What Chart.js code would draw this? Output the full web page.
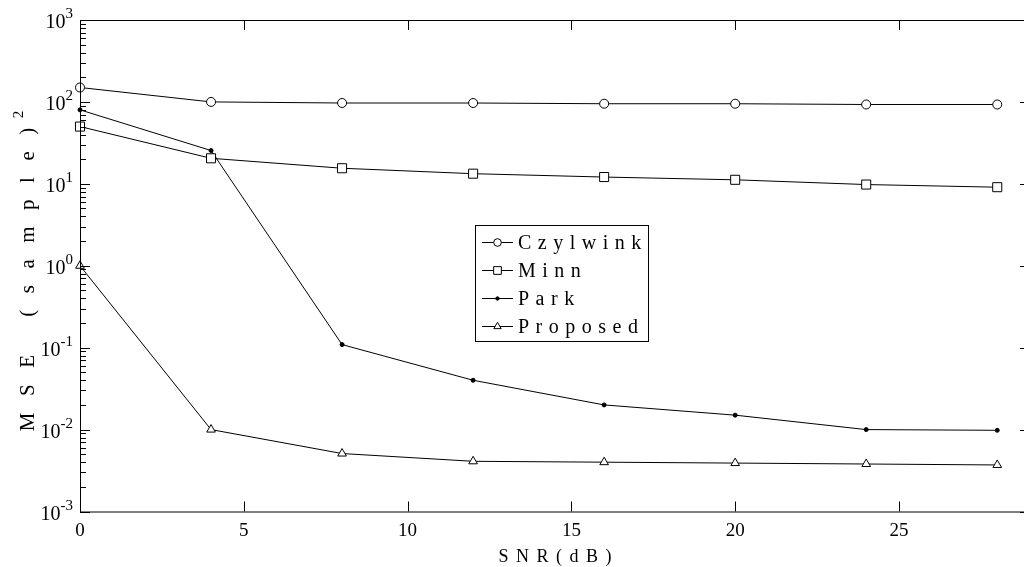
<!DOCTYPE html>
<html>
<head>
<meta charset="utf-8">
<title>MSE vs SNR</title>
<script src="https://cdn.jsdelivr.net/npm/chart.js@4.4.1/dist/chart.umd.min.js"></script>
<style>
  html, body { margin: 0; padding: 0; background: #fff; overflow: hidden; }
  #wrap { width: 1040px; height: 567px; }
</style>
</head>
<body>
<div id="wrap"><canvas id="mse" width="1040" height="567"></canvas></div>
<script>
const snr = [0, 4, 8, 12, 16, 20, 24, 28];
const czylwink = [150, 100, 97, 97, 95, 95, 93, 93];
const minn = [50, 20.5, 15.5, 13.3, 12.1, 11.2, 9.8, 9.1];
const park = [80, 25.5, 0.109, 0.040, 0.020, 0.015, 0.010, 0.0098];
const proposed = [1.0, 0.010, 0.0051, 0.0041, 0.0040, 0.0039, 0.0038, 0.0037];

const xTicks = [0, 5, 10, 15, 20, 25];
const yDecades = [-3, -2, -1, 0, 1, 2, 3];

const SERIF = '"Liberation Serif", "Times New Roman", serif';

function pts(vals) {
  return vals.map((v, i) => ({ x: snr[i], y: v }));
}

function series(label, vals, style, radius) {
  const solid = style === "circle" && radius < 3;
  return {
    label: label,
    data: pts(vals),
    borderColor: "#000",
    borderWidth: 1,
    backgroundColor: solid ? "#000" : "#fff",
    pointStyle: style,
    pointRadius: radius,
    pointBorderColor: "#000",
    pointBackgroundColor: solid ? "#000" : "#fff",
    pointBorderWidth: 1,
    tension: 0,
    clip: false
  };
}

// text with extra gap between letters
function spacedWidth(ctx, txt, gap) {
  let w = 0;
  for (const ch of txt) w += ctx.measureText(ch).width + gap;
  return w - gap;
}
function spacedText(ctx, txt, x, y, gap) {
  for (const ch of txt) {
    ctx.fillText(ch, x, y);
    x += ctx.measureText(ch).width + gap;
  }
  return x;
}

const axesBox = {
  id: "axesBox",
  afterDatasetsDraw(chart) {
    const ctx = chart.ctx;
    const a = chart.chartArea;
    const xs = chart.scales.x, ys = chart.scales.y;
    ctx.save();
    ctx.strokeStyle = "#000";
    ctx.fillStyle = "#000";
    ctx.lineWidth = 1;
    ctx.strokeRect(a.left + 0.5, a.top + 0.5, a.right - a.left, a.bottom - a.top);

    // x ticks, inward on top and bottom
    ctx.beginPath();
    xTicks.forEach(t => {
      const px = Math.round(xs.getPixelForValue(t)) + 0.5;
      ctx.moveTo(px, a.bottom); ctx.lineTo(px, a.bottom - 10);
      ctx.moveTo(px, a.top); ctx.lineTo(px, a.top + 10);
    });
    // y ticks, decades and minor
    yDecades.forEach(d => {
      for (let m = 1; m <= 9; m++) {
        if (d === 3 && m > 1) break;
        const py = Math.round(ys.getPixelForValue(m * Math.pow(10, d))) + 0.5;
        const len = m === 1 ? 10 : 6;
        ctx.moveTo(a.left, py); ctx.lineTo(a.left + len, py);
        ctx.moveTo(a.right, py); ctx.lineTo(a.right - len, py);
      }
    });
    ctx.stroke();

    // x tick labels
    ctx.font = "19px " + SERIF;
    ctx.textAlign = "center";
    ctx.textBaseline = "alphabetic";
    xTicks.forEach(t => ctx.fillText(String(t), xs.getPixelForValue(t), a.bottom + 24));

    // y tick labels as powers of ten
    yDecades.forEach(d => {
      const py = ys.getPixelForValue(Math.pow(10, d));
      ctx.textAlign = "right";
      ctx.font = "15px " + SERIF;
      const expTxt = d < 0 ? "-" + (-d) : String(d);
      ctx.fillText(expTxt, 73, py - 2);
      const ew = ctx.measureText(expTxt).width;
      ctx.font = "20px " + SERIF;
      ctx.fillText("10", 73 - ew, py + 8);
    });

    // x axis title
    ctx.font = "18px " + SERIF;
    ctx.textAlign = "left";
    const xt = "SNR(dB)";
    const xw = spacedWidth(ctx, xt, 7.5);
    spacedText(ctx, xt, (a.left + a.right) / 2 - xw / 2, a.bottom + 50, 7.5);

    // y axis title, rotated
    ctx.save();
    ctx.translate(34, (a.top + a.bottom) / 2 + 7);
    ctx.rotate(-Math.PI / 2);
    ctx.font = "21px " + SERIF;
    const yt = "MSE (sample)";
    const yw = spacedWidth(ctx, yt, 16.5);
    ctx.font = "15px " + SERIF;
    const sw = ctx.measureText("2").width + 6;
    ctx.font = "21px " + SERIF;
    const endX = spacedText(ctx, yt, -(yw + sw) / 2, 0, 16.5);
    ctx.font = "15px " + SERIF;
    ctx.fillText("2", endX - 7, -11);
    ctx.restore();

    // legend
    const box = { l: 475, t: 225, r: 648, b: 341 };
    ctx.fillStyle = "#fff";
    ctx.fillRect(box.l, box.t, box.r - box.l, box.b - box.t);
    ctx.strokeStyle = "#000";
    ctx.strokeRect(box.l + 0.5, box.t + 0.5, box.r - box.l, box.b - box.t);
    const rows = [242, 270, 297.5, 326];
    chart.data.datasets.forEach((ds, i) => {
      const y = rows[i];
      ctx.strokeStyle = "#000";
      ctx.lineWidth = 1;
      ctx.beginPath();
      ctx.moveTo(482, Math.round(y) + 0.5);
      ctx.lineTo(513, Math.round(y) + 0.5);
      ctx.stroke();
      ctx.fillStyle = ds.pointBackgroundColor;
      Chart.helpers.drawPoint(ctx, {
        pointStyle: ds.pointStyle,
        radius: ds.pointRadius * 0.85,
        borderWidth: 1,
        rotation: 0
      }, 497.5, Math.round(y) + 0.5);
      ctx.fillStyle = "#000";
      ctx.font = "20px " + SERIF;
      ctx.textAlign = "left";
      spacedText(ctx, ds.label, 518, y + 7, 6.5);
    });
    ctx.restore();
  }
};

new Chart(document.getElementById("mse"), {
  type: "line",
  data: {
    datasets: [
      series("Czylwink", czylwink, "circle", 4.5),
      series("Minn", minn, "rect", 6.4),
      series("Park", park, "circle", 2),
      series("Proposed", proposed, "triangle", 5)
    ]
  },
  options: {
    responsive: false,
    animation: false,
    layout: { padding: { left: 80, top: 20, right: 10, bottom: 55.5 } },
    scales: {
      x: { type: "linear", min: 0, max: 29, display: false },
      y: { type: "logarithmic", min: 1e-3, max: 1e3, display: false }
    },
    plugins: {
      legend: { display: false },
      tooltip: { enabled: false }
    }
  },
  plugins: [axesBox]
});
</script>
</body>
</html>
